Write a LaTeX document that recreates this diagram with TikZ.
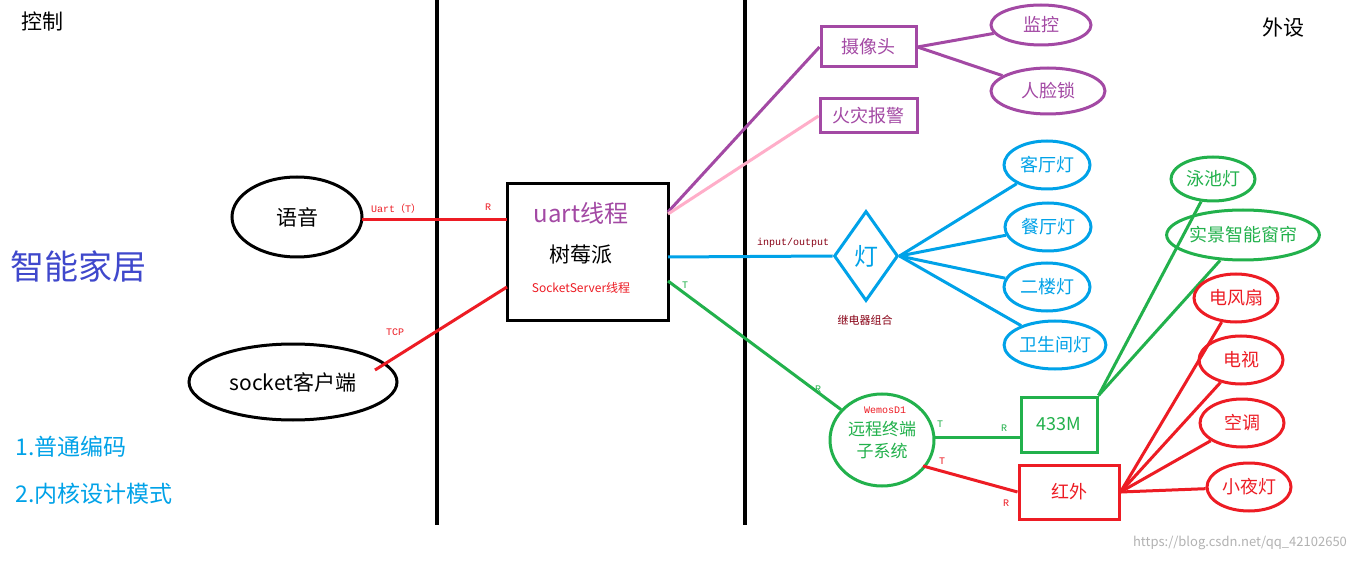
\documentclass[tikz,border=0pt]{standalone}
\usepackage{fontspec}
\setmainfont{Noto Sans CJK SC}
\newfontfamily\monof{Liberation Mono}
\newfontfamily\cjkf{Noto Sans CJK SC}
\usetikzlibrary{shapes.geometric}
\definecolor{cpur}{HTML}{A349A4}
\definecolor{cpink}{HTML}{FFAEC9}
\definecolor{cblue}{HTML}{00A2E8}
\definecolor{cgreen}{HTML}{22B14C}
\definecolor{cred}{HTML}{ED1C24}
\definecolor{cdred}{HTML}{880015}
\definecolor{cind}{HTML}{3F48CC}
\tikzset{
 ell/.style={ellipse,draw,line width=3pt,inner sep=0pt},
 rbox/.style={rectangle,draw,line width=3pt,inner sep=0pt},
 wire/.style={line width=3pt},
 sm/.style={font=\monof\fontsize{10}{10}\selectfont},
 cj/.style={font=\fontsize{21}{21}\selectfont},
}
\begin{document}
\begin{tikzpicture}[x=1pt,y=-1pt]
\useasboundingbox (0,0) rectangle (1360,561);
\fill[white] (0,0) rectangle (1360,561);
\draw[line width=4pt] (437,0) -- (437,525);
\draw[line width=4pt] (745,0) -- (745,525);
\node[font=\fontsize{21}{21}\selectfont] (kz) at (42,22) {控制};
\node[font=\fontsize{21}{21}\selectfont] (ws) at (1283,28) {外设};
\node[font=\fontsize{34}{34}\selectfont,text=cind] (zn) at (78,266) {智能家居};
\node[font=\fontsize{23}{23}\selectfont,text=cblue,anchor=west] (l1) at (12,447) {1.普通编码};
\node[font=\fontsize{23}{23}\selectfont,text=cblue,anchor=west] (l2) at (12,494) {2.内核设计模式};
\node[ell,minimum width=130,minimum height=80,cj] (yy) at (297,217) {语音};
\node[ell,minimum width=208,minimum height=76,cj] (sk) at (293,382) {socket客户端};
\node[rbox,minimum width=161,minimum height=137] (pi) at (587.5,252.5) {};
\node[font=\fontsize{24}{24}\selectfont,text=cpur] (ut) at (581,213) {uart线程};
\node[cj] (sm) at (581,255) {树莓派};
\node[font=\fontsize{12}{12}\selectfont,text=cred] (ss) at (581,288) {SocketServer线程};
\coordinate (y1) at (362,220); \coordinate (p1) at (507,220);
\draw[wire,cred] (y1) -- (p1);
\node[sm,text=cred] at (396,209) {Uart{\cjkf（}T{\cjkf）}};
\node[sm,text=cred] at (488,207) {R};
\coordinate (s1) at (375,370); \coordinate (p2) at (507,287);
\draw[wire,cred] (s1) -- (p2);
\node[sm,text=cred] at (395,332) {TCP};
\node[rbox,draw=cpur,minimum width=95,minimum height=40,text=cpur,font=\fontsize{18}{18}\selectfont] (cam) at (868.5,47) {摄像头};
\node[rbox,draw=cpur,minimum width=97,minimum height=34,text=cpur,font=\fontsize{18}{18}\selectfont] (fire) at (868.5,116) {火灾报警};
\draw[wire,cpur] (668,212) -- (cam.west);
\draw[wire,cpink] (668,214) -- (fire.west);
\node[ell,draw=cpur,minimum width=100,minimum height=40,text=cpur,font=\fontsize{18}{18}\selectfont] (jk) at (1041,25) {监控};
\node[ell,draw=cpur,minimum width=114,minimum height=46,text=cpur,font=\fontsize{18}{18}\selectfont] (rl) at (1048,91) {人脸锁};
\draw[wire,cpur] (cam.east) -- (jk);
\draw[wire,cpur] (cam.east) -- (rl);
\node[diamond,draw=cblue,line width=3pt,minimum width=64,minimum height=90,aspect=0.7,inner sep=0pt,text=cblue,font=\fontsize{24}{24}\selectfont] (deng) at (866,256) {灯};
\node[font=\fontsize{11}{11}\selectfont,text=cdred] (jd) at (865,320) {继电器组合};
\draw[wire,cblue] (668,257) -- (deng.west);
\node[sm,text=cdred] at (793,243) {input/output};
\tikzset{bl/.style={ell,draw=cblue,minimum width=86,minimum height=48,text=cblue,font=\fontsize{18}{18}\selectfont}}
\node[bl] (k1) at (1047,165) {客厅灯};
\node[bl] (k2) at (1048,227) {餐厅灯};
\node[bl] (k3) at (1047,287) {二楼灯};
\node[bl,minimum width=94] (k4) at (1055,345) {卫生间灯};
\foreach \n in {k1,k2,k3,k4} \draw[wire,cblue] (deng.east) -- (\n);
\node[ell,draw=cgreen,minimum width=104,minimum height=92,text=cgreen,font=\fontsize{17}{22}\selectfont,align=center] (wm) at (882,440) {远程终端\\子系统};
\node[font=\monof\fontsize{10}{10}\selectfont,text=cred] at (885,410) {WemosD1};
\draw[wire,cgreen] (668,281) -- (wm);
\node[sm,text=cgreen] at (685,285) {T};
\node[sm,text=cgreen] at (818,389) {R};
\node[rbox,draw=cgreen,minimum width=76,minimum height=55,text=cgreen,font=\fontsize{18}{18}\selectfont] (m433) at (1059,424.5) {433M};
\draw[wire,cgreen] (934,437) -- (1021,437);
\node[sm,text=cgreen] at (940,424) {T};
\node[sm,text=cgreen] at (1004,428) {R};
\node[ell,draw=cgreen,minimum width=84,minimum height=44,text=cgreen,font=\fontsize{18}{18}\selectfont] (yc) at (1213,179) {泳池灯};
\node[ell,draw=cgreen,minimum width=130,minimum height=50,text=cgreen,font=\fontsize{18}{18}\selectfont] (cl) at (1243,235) {实景智能窗帘};
\draw[wire,cgreen] (m433.north east) -- (yc);
\draw[wire,cgreen] (m433.north east) -- (cl);
\node[rbox,draw=cred,minimum width=100,minimum height=54,text=cred,font=\fontsize{18}{18}\selectfont] (hw) at (1069,492) {红外};
\draw[wire,cred] (923,466) -- (hw.west);
\node[sm,text=cred] at (942,461) {T};
\node[sm,text=cred] at (1006,503) {R};
\tikzset{rl/.style={ell,draw=cred,minimum width=84,minimum height=48,text=cred,font=\fontsize{18}{18}\selectfont}}
\node[rl] (r1) at (1236,298) {电风扇};
\node[rl] (r2) at (1241,360) {电视};
\node[rl] (r3) at (1242,423) {空调};
\node[rl] (r4) at (1249,487) {小夜灯};
\foreach \n in {r1,r2,r3,r4} \draw[wire,cred] (hw.east) -- (\n);
\node[font=\fontsize{13}{13}\selectfont,text=black!30] (wmk) at (1240,543) {https://blog.csdn.net/qq\_42102650};
\end{tikzpicture}
\end{document}
